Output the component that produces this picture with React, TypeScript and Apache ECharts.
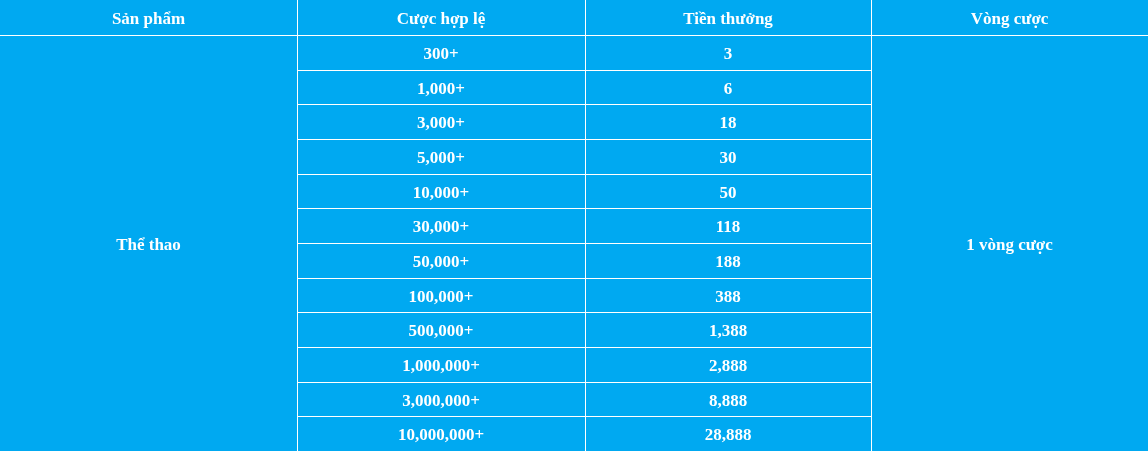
import React, { useEffect, useRef } from "react";
import * as echarts from "echarts";

const headers = ["Sản phẩm", "Cược hợp lệ", "Tiền thưởng", "Vòng cược"];
const product = "Thể thao";
const bets = ["300+", "1,000+", "3,000+", "5,000+", "10,000+", "30,000+", "50,000+", "100,000+", "500,000+", "1,000,000+", "3,000,000+", "10,000,000+"];
const rewards = ["3", "6", "18", "30", "50", "118", "188", "388", "1,388", "2,888", "8,888", "28,888"];
const rounds = "1 vòng cược";

const W = 1148, H = 451;
const colX = [0, 297, 585, 871, 1148];
const headH = 35;
const BG = "#00A9F1";
const FONT = { fill: "#fff", fontFamily: "Liberation Serif", fontWeight: "bold" as const, fontSize: 17, align: "center" as const, verticalAlign: "middle" as const };

export default function App() {
  const ref = useRef<HTMLDivElement>(null);
  useEffect(() => {
    const chart = echarts.init(ref.current!, null, { renderer: "svg" });
    const rowH = (H - headH) / bets.length;
    const els: any[] = [];
    els.push({ type: "rect", shape: { x: 0, y: 0, width: W, height: H }, style: { fill: BG } });
    const line = (x1: number, y1: number, x2: number, y2: number) =>
      els.push({ type: "line", shape: { x1, y1, x2, y2 }, style: { stroke: "#fff", lineWidth: 1 } });
    const text = (t: string, cx: number, cy: number) => els.push({ type: "text", x: cx, y: cy, style: { ...FONT, text: t } });
    line(0, headH + 0.5, W, headH + 0.5);
    for (let i = 1; i < 4; i++) line(colX[i] + 0.5, 0, colX[i] + 0.5, H);
    for (let r = 1; r < bets.length; r++) {
      const y = Math.round(headH + r * rowH) + 0.5;
      line(colX[1], y, colX[3], y);
    }
    headers.forEach((h, i) => text(h, (colX[i] + colX[i + 1]) / 2, headH / 2 + 1));
    bets.forEach((b, r) => {
      const cy = headH + (r + 0.5) * rowH + 1;
      text(b, (colX[1] + colX[2]) / 2, cy);
      text(rewards[r], (colX[2] + colX[3]) / 2, cy);
    });
    text(product, (colX[0] + colX[1]) / 2, (headH + H) / 2 + 1);
    text(rounds, (colX[3] + colX[4]) / 2, (headH + H) / 2 + 1);
    chart.setOption({ animation: false, graphic: { elements: els } });
    return () => chart.dispose();
  }, []);
  return <div ref={ref} style={{ position: "fixed", left: 0, top: 0, width: W, height: H }} />;
}
